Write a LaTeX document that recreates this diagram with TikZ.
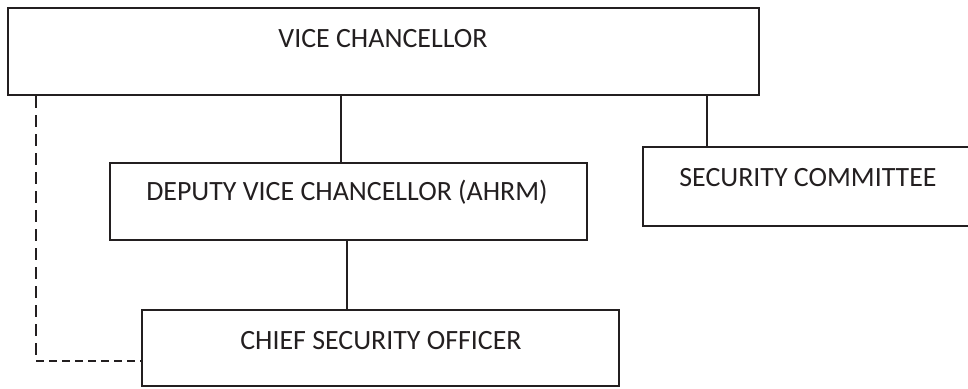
\documentclass[tikz,border=0pt]{standalone}
\usepackage{fontspec}
\setmainfont{Carlito}
\definecolor{ink}{HTML}{231F20}
\begin{document}
\begin{tikzpicture}[x=1pt,y=-1pt,
  box/.style={draw=ink, line width=2.2pt, rectangle, inner sep=0pt},
  lbl/.style={text=ink, font=\fontsize{27.9}{33}\selectfont, inner sep=0pt, anchor=center},
  link/.style={draw=ink, line width=2pt},
  dotlink/.style={draw=ink, line width=2pt}]
\useasboundingbox (0,0) rectangle (968,388);
\clip (0,0) rectangle (968,388);
% boxes
\node[box, minimum width=751pt, minimum height=87pt] (vc) at (383.5,51.5) {};
\node[lbl] (vct) at (383,39) {VICE CHANCELLOR};
\node[box, minimum width=477pt, minimum height=77pt] (dvc) at (348.5,201.5) {};
\node[lbl] (dvct) at (347,192.5) {DEPUTY VICE CHANCELLOR (AHRM)};
\node[box, minimum width=330pt, minimum height=79pt] (sc) at (808,186.5) {};
\node[lbl] (sct) at (808,178) {SECURITY COMMITTEE};
\node[box, minimum width=477pt, minimum height=76pt] (cso) at (380.5,348) {};
\node[lbl] (csot) at (381,341) {CHIEF SECURITY OFFICER};
% connectors
\draw[link] (341,0 |- vc.south) -- (341,0 |- dvc.north);
\draw[link] (707,0 |- vc.south) -- (707,0 |- sc.north);
\draw[link] (347,0 |- dvc.south) -- (347,0 |- cso.north);
\coordinate (corner) at (36,361);
\draw[dotlink, dash pattern=on 12pt off 7pt] (36,0 |- vc.south) -- (corner);
\draw[dotlink, dash pattern=on 8pt off 5pt] (corner) -- (corner -| cso.west);
\end{tikzpicture}
\end{document}
